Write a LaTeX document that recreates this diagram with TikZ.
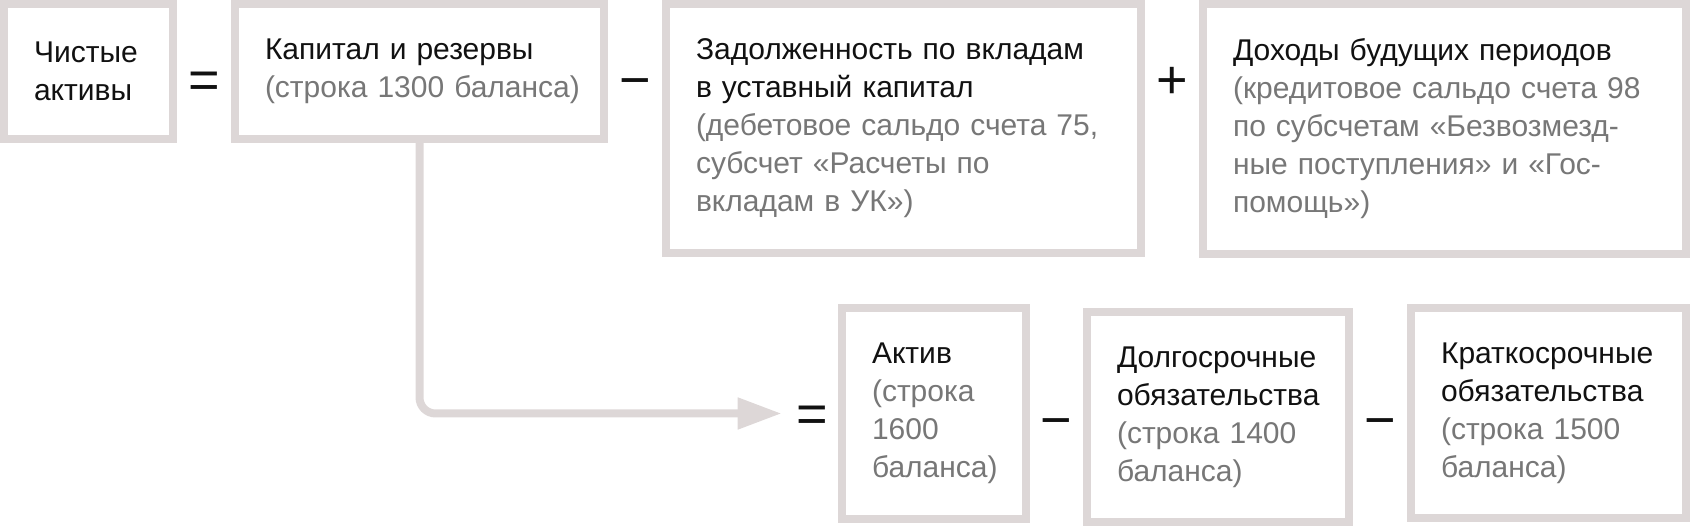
\documentclass[tikz,border=0pt]{standalone}
\usepackage{fontspec}
\setmainfont{Liberation Sans}
\usepackage{xcolor}
\usepackage{tikz}
\usetikzlibrary{positioning, arrows.meta, calc}
\definecolor{boxline}{HTML}{DDD7D7}
\definecolor{subtext}{HTML}{777777}
\definecolor{maintext}{HTML}{111111}

\begin{document}
\begin{tikzpicture}[
    box/.style={draw=boxline, line width=4pt, outer sep=2pt, fill=white,
      inner xsep=15pt, inner ysep=0pt, align=left, text=maintext,
      font=\fontsize{15}{19}\selectfont},
    op/.style={inner sep=0pt, text height=19.2pt, text depth=0pt, text=maintext,
      font=\fontsize{27}{27}\selectfont},
    arr/.style={-{Triangle[length=22pt, width=15pt]}, line width=4pt, boxline,
      rounded corners=8pt, shorten >=7pt}]
\useasboundingbox (0,0) rectangle (846pt,-264pt);
% --- top row: net assets formula ---
\node[box, minimum width=84.5pt, minimum height=67.5pt, text width=54.5pt,
  anchor=north west](net) at (0,0){Чистые\\активы};
\node[box, minimum width=184.5pt, minimum height=67.5pt, text width=154.5pt,
  right=27pt of net.north east, anchor=north west](cap){%
  Капитал и резервы\\\color{subtext}\mbox{(строка 1300 баланса)}};
\node[box, minimum width=237.5pt, minimum height=124.5pt, text width=207.5pt,
  right=27pt of cap.north east, anchor=north west](debt){%
  Задолженность по вкладам\\в уставный капитал\\
  \color{subtext}(дебетовое сальдо счета 75,\\субсчет «Расчеты по\\вкладам в УК»)};
\node[box, minimum width=241.5pt, minimum height=125pt, text width=211.5pt,
  right=27pt of debt.north east, anchor=north west](defer){%
  Доходы будущих периодов\\
  \color{subtext}(кредитовое сальдо счета 98\\по субсчетам «Безвозмезд-\\ные поступления» и «Гос-\\помощь»)};
\node[op, yshift=-3.75pt] (eqtop) at ($(net.east)!0.5!(cap.west)$) {=};
\node[op] (minustop) at ($(cap.east |- eqtop)!0.5!(debt.west |- eqtop)$) {−};
\node[op] (plustop) at ($(debt.east |- eqtop)!0.5!(defer.west |- eqtop)$) {+};

% --- bottom row: balance sheet lines ---
\node[box, minimum width=92pt, minimum height=105.5pt, text width=62pt,
  below right=23.5pt and 88pt of debt.south west, anchor=north west](asset){%
  Актив\\\color{subtext}(строка\\1600\\баланса)};
\node[box, minimum width=131pt, minimum height=105pt, text width=101pt,
  right=26.5pt of asset.north east, anchor=north west, yshift=-2pt](longl){%
  Долгосрочные\\обязательства\\\color{subtext}(строка 1400\\баланса)};
\node[box, minimum width=137.5pt, minimum height=105pt, text width=107.5pt,
  right=27pt of longl.north east, anchor=north west, yshift=2pt](shortl){%
  Краткосрочные\\обязательства\\\color{subtext}(строка 1500\\баланса)};
\node[op, left=5pt of asset] (eqbot) {=};
\node[op, yshift=-2pt] (minusA) at ($(asset.east)!0.5!(longl.west)$) {−};
\node[op, yshift=-2pt] (minusB) at ($(longl.east)!0.5!(shortl.west)$) {−};

\draw[arr](cap.south) |- (eqbot.west);
\end{tikzpicture}
\end{document}
